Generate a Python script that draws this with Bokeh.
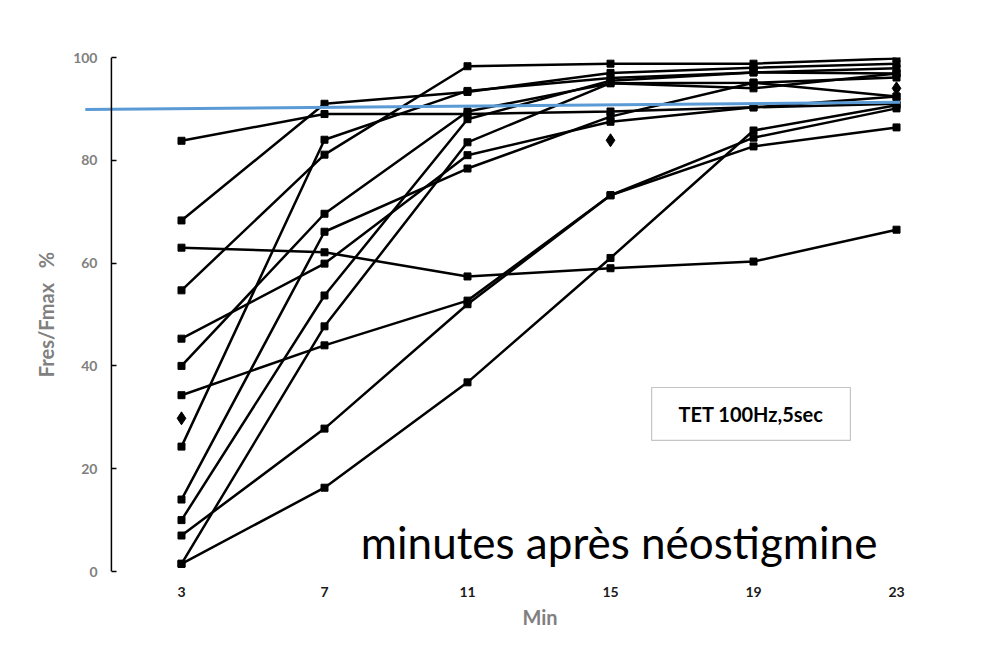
from bokeh.plotting import figure
from bokeh.models import Range1d, FixedTicker, Label, BoxAnnotation, Span, Title
from bokeh.embed import file_html
from bokeh.resources import INLINE

# ---- data ----
minutes = [3, 7, 11, 15, 19, 23]
y_ticks = [0, 20, 40, 60, 80, 100]

s01 = [83.8, 89.0, 89.0, 89.5, 90.3, 92.4]
s02 = [68.3, 91.0, 93.3, 97.0, 98.0, 98.8]
s03 = [63.0, 62.1, 57.4, 59.0, 60.3, 66.5]
s04 = [54.7, 81.1, 98.3, 98.8, 98.8, 99.8]
s05 = [45.3, 59.9, 81.0, 87.5, 90.3, 91.0]
s06 = [40.0, 69.6, 89.5, 95.0, 95.1, 96.1]
s07 = [34.3, 44.0, 52.7, 73.2, 84.4, 90.1]
s08 = [24.3, 84.0, 93.5, 96.0, 97.1, 97.9]
s09 = [14.0, 66.1, 78.4, 88.5, 95.1, 92.4]
s10 = [10.0, 53.7, 88.0, 95.5, 97.1, 96.9]
s11 = [7.0, 27.8, 52.0, 73.2, 82.7, 86.4]
s12 = [1.5, 16.3, 36.8, 61.0, 85.8, 90.7]
s13 = [1.5, 47.7, 83.5, 95.0, 94.0, 96.9]
patients = [s01, s02, s03, s04, s05, s06, s07, s08, s09, s10, s11, s12, s13]

mean_minutes = [3, 15, 23]
mean_values = [29.8, 83.9, 94.0]

threshold_x = [0.31, 23.1]
threshold_y = [89.9, 91.3]

FONT = "Lato"
AXIS_X = 1.04   # where the y axis line sits (data units)

p = figure(width=990, height=647, output_backend="svg", toolbar_location=None,
           x_range=Range1d(0.175, 24.23), y_range=Range1d(0, 100),
           min_border_left=80, min_border_right=50, min_border_top=57, min_border_bottom=76,
           styles={"outline": "1px solid #d9d9d9", "outline-offset": "-4px"})
p.outline_line_color = None
p.grid.visible = False
p.background_fill_color = "white"
p.border_fill_color = "white"

for s in patients:
    p.line(minutes, s, line_color="black", line_width=2.5)
    p.scatter(minutes, s, marker="square", size=7, color="black")

p.scatter(mean_minutes, mean_values, marker="diamond", size=13, color="black")

p.line(threshold_x, threshold_y, line_color="#5B9BD5", line_width=3)

# y axis (line drawn as a span, ticks/labels shifted onto it)
p.add_layout(Span(location=AXIS_X, dimension="height", line_color="black", line_width=1.5))
ya = p.yaxis[0]
ya.ticker = FixedTicker(ticks=y_ticks)
ya.axis_line_color = None
ya.major_tick_out = -31
ya.major_tick_in = 36
ya.minor_tick_line_color = None
ya.major_tick_line_width = 1.5
ya.major_tick_line_color = "black"
ya.major_label_standoff = -17
ya.major_label_text_font = FONT
ya.major_label_text_font_style = "bold"
ya.major_label_text_font_size = "14px"
ya.major_label_text_color = "#808080"
ya.axis_label = "Fres/Fmax\u00a0\u00a0\u00a0%"
ya.axis_label_text_font = FONT
ya.axis_label_text_font_style = "bold"
ya.axis_label_text_font_size = "20px"
ya.axis_label_text_color = "#808080"
ya.axis_label_standoff = 12

# x axis
xa = p.xaxis[0]
xa.ticker = FixedTicker(ticks=minutes)
xa.axis_line_color = None
xa.major_tick_line_color = None
xa.minor_tick_line_color = None
xa.major_label_standoff = 9
xa.major_label_text_font = FONT
xa.major_label_text_font_style = "bold"
xa.major_label_text_font_size = "14px"
xa.major_label_text_color = "#1a1a1a"

p.add_layout(Title(text="Min", align="left", offset=442, standoff=6,
                   text_font=FONT, text_font_style="bold", text_font_size="20px",
                   text_color="#808080"), "below")

# legend-like box
p.add_layout(BoxAnnotation(left=16.15, right=21.71, bottom=25.5, top=35.8,
                           fill_color="white", fill_alpha=1.0,
                           line_color="#404040", line_width=1.2))
p.add_layout(Label(x=18.93, y=30.65, text="TET 100Hz,5sec", text_align="center",
                   text_baseline="middle", text_font=FONT, text_font_style="bold",
                   text_font_size="20px", text_color="black"))

p.add_layout(Label(x=15.24, y=5.8, text="minutes après néostigmine", text_align="center",
                   text_baseline="middle", text_font=FONT, text_font_size="44px",
                   text_color="black"))

open("out.html", "w").write(file_html(p, INLINE))
